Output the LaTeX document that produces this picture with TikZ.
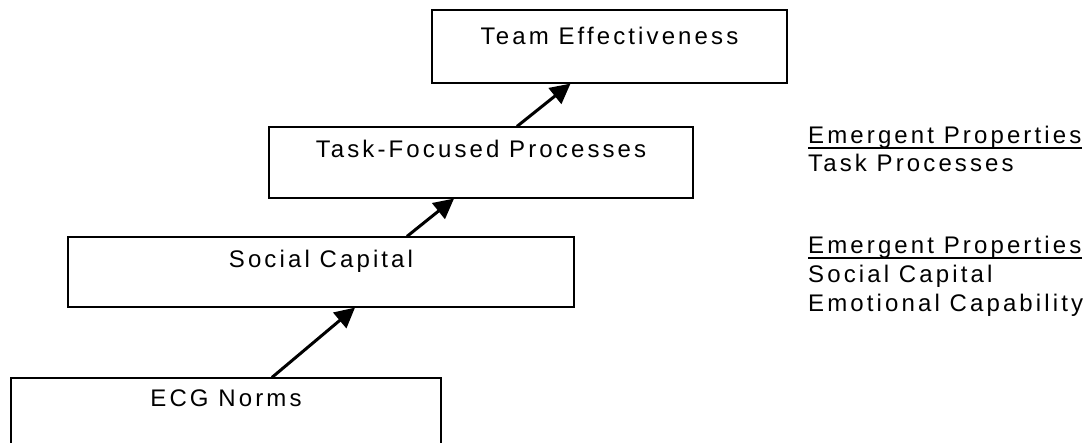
\documentclass[tikz,border=0pt]{standalone}
\usepackage{fontspec}
\newfontfamily\arialsp[LetterSpace=13]{Liberation Sans}
\usetikzlibrary{arrows.meta,calc}

\begin{document}
\begin{tikzpicture}[x=1pt,y=-1pt,
    stage/.style={draw, rectangle, line width=1.2pt, inner sep=0pt},
    lbl/.style={font=\arialsp\fontsize{24}{28}\selectfont, inner sep=0pt, anchor=base},
    prop/.style={lbl, anchor=base west},
    lift/.style={-{Triangle[length=20pt,width=20pt]}, line width=3pt}
]

\clip (0,0) rectangle (1091,443);

% Stages
\node[stage, minimum width=355pt, minimum height=73pt] (te) at (609.5,46.5) {};
\node[stage, minimum width=424pt, minimum height=71pt] (tf) at (481,162.5) {};
\node[stage, minimum width=506pt, minimum height=70pt] (sc) at (321,272) {};
\node[stage, minimum width=430pt, minimum height=80pt] (ecg) at (226,418) {};

\node[lbl] (te-t) at ($(te.north)+(0,35)$) {Team Effectiveness};
\node[lbl] (tf-t) at ($(tf.north)+(0,31)$) {Task-Focused Processes};
\node[lbl] (sc-t) at ($(sc.north)+(0,31)$) {Social Capital};
\node[lbl] (ecg-t) at ($(ecg.north)+(0,29)$) {ECG Norms};

% Arrows between stages
\draw[lift] ([xshift=46pt]ecg.north) -- ([xshift=34pt]sc.south);
\draw[lift] ([xshift=86pt]sc.north) -- ([xshift=-27pt]tf.south);
\draw[lift] ([xshift=36pt]tf.north) -- ([xshift=-39pt]te.south);

% Emergent properties
\node[prop] (ep1) at (808,144) {Emergent Properties};
\node[prop] (ep1-a) at (808,172) {Task Processes};
\node[prop] (ep2) at (808,254) {Emergent Properties};
\node[prop] (ep2-a) at (808,283) {Social Capital};
\node[prop] (ep2-b) at (808,312) {Emotional Capability};
\draw[line width=2.5pt] ([yshift=-4pt]ep1.base west) -- ([yshift=-4pt]ep1.base east);
\draw[line width=2.5pt] ([yshift=-4pt]ep2.base west) -- ([yshift=-4pt]ep2.base east);

\end{tikzpicture}
\end{document}
